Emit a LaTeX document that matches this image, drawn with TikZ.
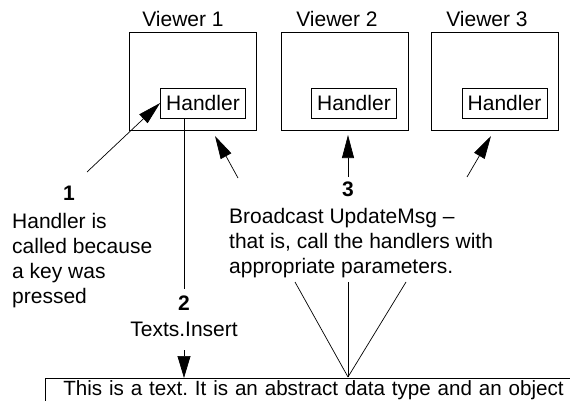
\documentclass[tikz,border=0pt]{standalone}
\usepackage{fontspec}
\setmainfont{Liberation Sans}
\usetikzlibrary{arrows.meta}
\frenchspacing
\begin{document}
\begin{tikzpicture}[x=1pt,y=-1pt,
  font=\fontsize{21}{25}\selectfont,
  viewer/.style={draw, line width=0.9pt, minimum width=127pt, minimum height=98pt, inner sep=0pt},
  handler/.style={draw, line width=0.7pt, minimum width=85pt, minimum height=30pt, inner sep=0pt},
  lbl/.style={anchor=base, inner sep=0pt},
  num/.style={anchor=base, inner sep=0pt, font=\fontsize{21}{25}\selectfont\bfseries},
  desc/.style={anchor=north west, inner sep=0pt, align=left},
  bigarrow/.style={line width=0.7pt, -{Triangle[length=23pt,width=12pt]}},
  thin/.style={line width=0.7pt}]
\useasboundingbox (0,0) rectangle (570,401);
\clip (0,0) rectangle (570,401);
% viewers
\node[viewer] (v1) at (193,81) {};
\node[viewer] (v2) at (345,81) {};
\node[viewer] (v3) at (495,81) {};
\node[lbl] (v1l) at (183,27) {Viewer 1};
\node[lbl] (v2l) at (337,27) {Viewer 2};
\node[lbl] (v3l) at (487,27) {Viewer 3};
\node[handler] (h1) at (203,103) {Handler};
\node[handler] (h2) at (354,103) {Handler};
\node[handler] (h3) at (504.5,103) {Handler};
% labels
\node[num] (n1) at (69,200) {1};
\node[desc] (d1) at (12,213) {Handler is\\called because\\a key was\\pressed};
\node[num] (n2) at (184,310) {2};
\node[lbl] (ins) at (184,336) {Texts.Insert};
\node[num] (n3) at (348,196) {3};
\node[desc] (d3) at (229,208) {Broadcast UpdateMsg --\\that is, call the handlers with\\appropriate parameters.};
% text box
\node[draw, line width=0.7pt, anchor=north west, inner xsep=18pt, inner ysep=0pt,
      font=\fontsize{20.6}{25}\selectfont,
      text height=17pt, text depth=20pt, minimum width=560pt, align=left, text width=524pt] (txt) at (45,378)
  {This is a text. It is an abstract data type and an object};
% coordinates
\coordinate (a1s) at (87,172);
\coordinate (b1s) at (238,178);
\coordinate (b1e) at (215,136);
\coordinate (b2s) at (348,177);
\coordinate (b2e) at (348,135);
\coordinate (b3s) at (467,177);
\coordinate (b3e) at (491,136);
\coordinate (conv) at (348,377);
\coordinate (c1) at (295,282);
\coordinate (c2) at (348,282);
\coordinate (c3) at (406,282);
\coordinate (l2b) at (184,289);
\coordinate (insb) at (184,350);
% connectors
\draw[bigarrow] (a1s) -- (h1.west);
\draw[bigarrow] (b1s) -- (b1e);
\draw[bigarrow] (b2s) -- (b2e);
\draw[bigarrow] (b3s) -- (b3e);
\draw[thin] (l2b |- h1.south) -- (l2b);
\draw[line width=0.7pt, -{Triangle[length=22pt,width=13pt]}] (insb) -- (insb |- txt.north);
\draw[thin] (c1) -- (conv);
\draw[thin] (c2) -- (conv);
\draw[thin] (c3) -- (conv);
\end{tikzpicture}
\end{document}
